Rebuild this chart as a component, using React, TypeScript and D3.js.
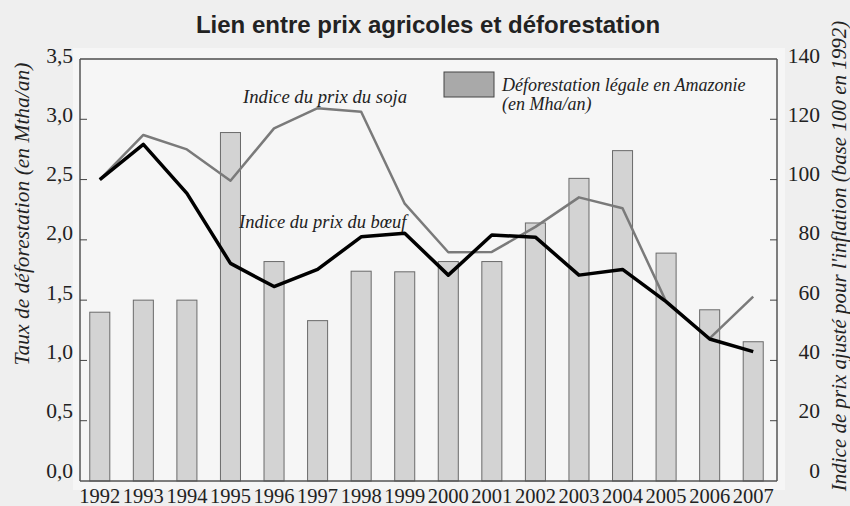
import React from "react";
import * as d3 from "d3";

const years = ["1992","1993","1994","1995","1996","1997","1998","1999","2000","2001","2002","2003","2004","2005","2006","2007"];
const deforestation = [1.40, 1.50, 1.50, 2.89, 1.82, 1.33, 1.74, 1.735, 1.82, 1.82, 2.14, 2.51, 2.74, 1.89, 1.42, 1.155];
const soyIndex = [100, 114.8, 110, 99.6, 117, 123.7, 122.5, 92, 75.9, 76, 84.3, 94.1, 90.5, 59.5, 47.3, 61.2];
const beefIndex = [100, 111.7, 95.4, 72.2, 64.5, 70.2, 81, 82.2, 68.3, 81.6, 80.9, 68.3, 70.2, 59.5, 47.1, 42.9];
const leftTicks = [0, 0.5, 1, 1.5, 2, 2.5, 3, 3.5];
const rightTicks = [0, 20, 40, 60, 80, 100, 120, 140];

const W = 850, H = 506;
const L = 80, R = 777, T = 59, B = 481;
const serif = "'Liberation Serif', 'Times New Roman', serif";
const sans = "'Liberation Sans', Arial, Helvetica, sans-serif";

export default function App() {
  const x = d3.scaleBand<string>().domain(years).range([78, 775]).paddingInner(0.54).paddingOuter(0.27);
  const yL = d3.scaleLinear().domain([0, 3.5]).range([B, T]);
  const yR = d3.scaleLinear().domain([0, 140]).range([B, T]);
  const labL = d3.scaleLinear().domain([0, 3.5]).range([470, 55]);
  const labR = d3.scaleLinear().domain([0, 140]).range([470, 55]);
  const cx = (y: string) => (x(y) as number) + x.bandwidth() / 2;
  const line = d3.line<number>().x((_, i) => cx(years[i])).y(v => yR(v));
  const fmt = (v: number) => v.toFixed(1).replace(".", ",");

  return (
    <svg width={W} height={H} style={{ position: "absolute", left: 0, top: 0 }}>
      <rect x={0} y={0} width={W} height={H} fill="#efefef" />
      <rect x={73} y={48} width={712} height={442} fill="#f6f6f6" />
      <text x={428} y={33} textAnchor="middle" fontFamily={sans} fontWeight="bold" fontSize={24} fill="#222">
        Lien entre prix agricoles et déforestation
      </text>
      {deforestation.map((v, i) => (
        <rect key={years[i]} x={x(years[i])} y={yL(v)} width={x.bandwidth()} height={B - yL(v)}
          fill="#d3d3d3" stroke="#6a6a6a" strokeWidth={1} />
      ))}
      <path d={line(soyIndex) || ""} fill="none" stroke="#7a7a7a" strokeWidth={2.5} strokeLinejoin="round" />
      <path d={line(beefIndex) || ""} fill="none" stroke="#000" strokeWidth={3.5} strokeLinejoin="round" />
      <text x={243} y={103} fontFamily={serif} fontStyle="italic" fontSize={18.7} fill="#222">Indice du prix du soja</text>
      <text x={239} y={228} fontFamily={serif} fontStyle="italic" fontSize={18.5} fill="#222">Indice du prix du bœuf</text>
      {/* frame */}
      <line x1={L} y1={T} x2={R} y2={T} stroke="#777" strokeWidth={2} />
      <line x1={L} y1={B} x2={R} y2={B} stroke="#555" strokeWidth={1.5} />
      <line x1={L} y1={T} x2={L} y2={B} stroke="#555" strokeWidth={1.5} />
      <line x1={R} y1={T} x2={R} y2={B} stroke="#555" strokeWidth={1.5} />
      {leftTicks.map(v => (
        <g key={"l" + v}>
          {v > 0 && v < 3.5 && <line x1={L} x2={L + 7} y1={yL(v)} y2={yL(v)} stroke="#444" strokeWidth={1} />}
          <text x={73} y={labL(v)} dy="0.35em" textAnchor="end" fontFamily={serif} fontSize={21.5} fill="#222">{fmt(v)}</text>
        </g>
      ))}
      {rightTicks.map(v => (
        <g key={"r" + v}>
          {v > 0 && v < 140 && <line x1={R - 7} x2={R} y1={yR(v)} y2={yR(v)} stroke="#444" strokeWidth={1} />}
          <text x={820} y={labR(v)} dy="0.35em" textAnchor="end" fontFamily={serif} fontSize={21.5} fill="#222">{v}</text>
        </g>
      ))}
      {years.map(y => (
        <text key={"x" + y} x={cx(y)} y={503} textAnchor="middle" fontFamily={serif} fontSize={20.5} fill="#222">{y}</text>
      ))}
      <text transform="translate(29,214) rotate(-90)" textAnchor="middle" fontFamily={serif} fontStyle="italic" fontSize={21.5} fill="#222">
        Taux de déforestation (en Mtha/an)
      </text>
      <text transform="translate(846,256) rotate(-90)" textAnchor="middle" fontFamily={serif} fontStyle="italic" fontSize={21} fill="#222">
        Indice de prix ajusté pour l'inflation (base 100 en 1992)
      </text>
      {/* legend */}
      <rect x={444} y={72} width={50} height={25} fill="#a9a9a9" stroke="#444" strokeWidth={1} />
      <text x={502} y={91} fontFamily={serif} fontStyle="italic" fontSize={18} fill="#222">Déforestation légale en Amazonie</text>
      <text x={502} y={110} fontFamily={serif} fontStyle="italic" fontSize={18} fill="#222">(en Mha/an)</text>
    </svg>
  );
}
